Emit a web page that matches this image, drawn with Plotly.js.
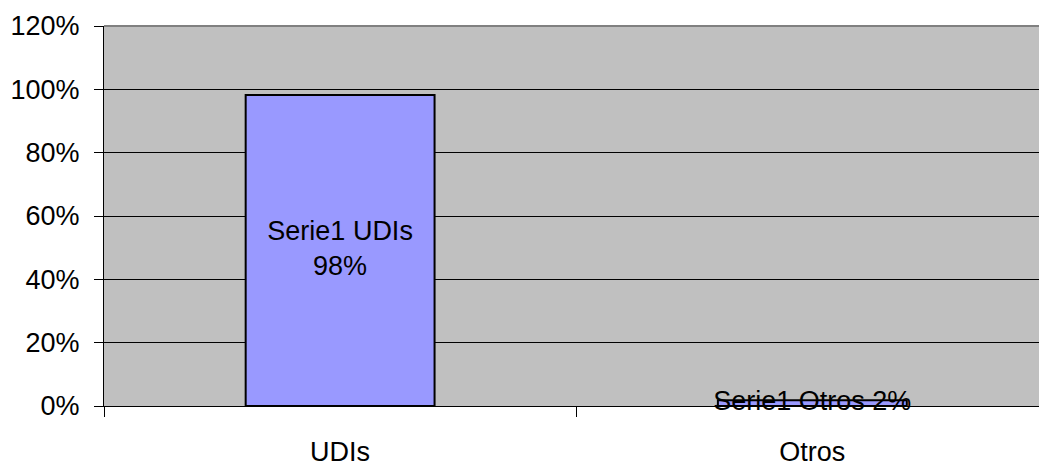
<!DOCTYPE html>
<html>
<head>
<meta charset="utf-8">
<script src="https://cdn.plot.ly/plotly-3.0.1.min.js"></script>
<style>
html,body{margin:0;padding:0;background:#fff;}
#chart{width:1039px;height:468px;}
</style>
</head>
<body>
<div id="chart"></div>
<script>
// Data
var categories = ["UDIs", "Otros"];
var values = [0.982, 0.018];
var labels = ["Serie1 UDIs<br>98%", "Serie1 Otros 2%"];
var yTickVals = [0, 0.2, 0.4, 0.6, 0.8, 1.0, 1.2];
var yTickText = ["0%", "20%", "40%", "60%", "80%", "100%", "120%"];

var FONT = "Liberation Sans, Arial, sans-serif";

var bars = {
  type: "bar",
  x: categories,
  y: values,
  width: 0.4,
  marker: {color: "#9999FF", line: {color: "#000000", width: 2}},
  hoverinfo: "none",
  showlegend: false
};

var textTrace = {
  type: "scatter",
  mode: "text",
  x: categories,
  y: values.map(function(v){ return v / 2; }),
  text: labels,
  textposition: "middle center",
  textfont: {family: FONT, size: 27, color: "#000000"},
  hoverinfo: "none",
  showlegend: false,
  cliponaxis: false
};

var layout = {
  width: 1039,
  height: 468,
  margin: {l: 104, r: 0, t: 26, b: 62, pad: 0},
  paper_bgcolor: "#ffffff",
  plot_bgcolor: "#C0C0C0",
  showlegend: false,
  font: {family: FONT, size: 27, color: "#000000"},
  xaxis: {
    type: "category",
    range: [-0.5, 1.48],
    showline: true,
    linecolor: "#000000",
    linewidth: 1,
    ticks: "outside",
    tickson: "boundaries",
    ticklen: 10,
    tickcolor: "#000000",
    tickwidth: 1,
    showgrid: false,
    zeroline: false,
    ticklabelstandoff: 22,
    tickfont: {family: FONT, size: 27, color: "#000000"},
    fixedrange: true
  },
  yaxis: {
    range: [0, 1.2],
    tickvals: yTickVals,
    ticktext: yTickText,
    showline: true,
    linecolor: "#000000",
    linewidth: 1,
    ticks: "outside",
    ticklen: 9,
    tickcolor: "#000000",
    tickwidth: 1,
    showgrid: true,
    gridcolor: "#000000",
    gridwidth: 1,
    zeroline: false,
    ticklabelstandoff: 9,
    tickfont: {family: FONT, size: 27, color: "#000000"},
    fixedrange: true
  },
  shapes: [
    {type: "line", xref: "paper", yref: "paper", x0: 0, x1: 1, y0: 1, y1: 1,
     line: {color: "#808080", width: 2}, layer: "above"}
  ]
};

Plotly.newPlot("chart", [bars, textTrace], layout, {staticPlot: true, displayModeBar: false});
</script>
</body>
</html>
